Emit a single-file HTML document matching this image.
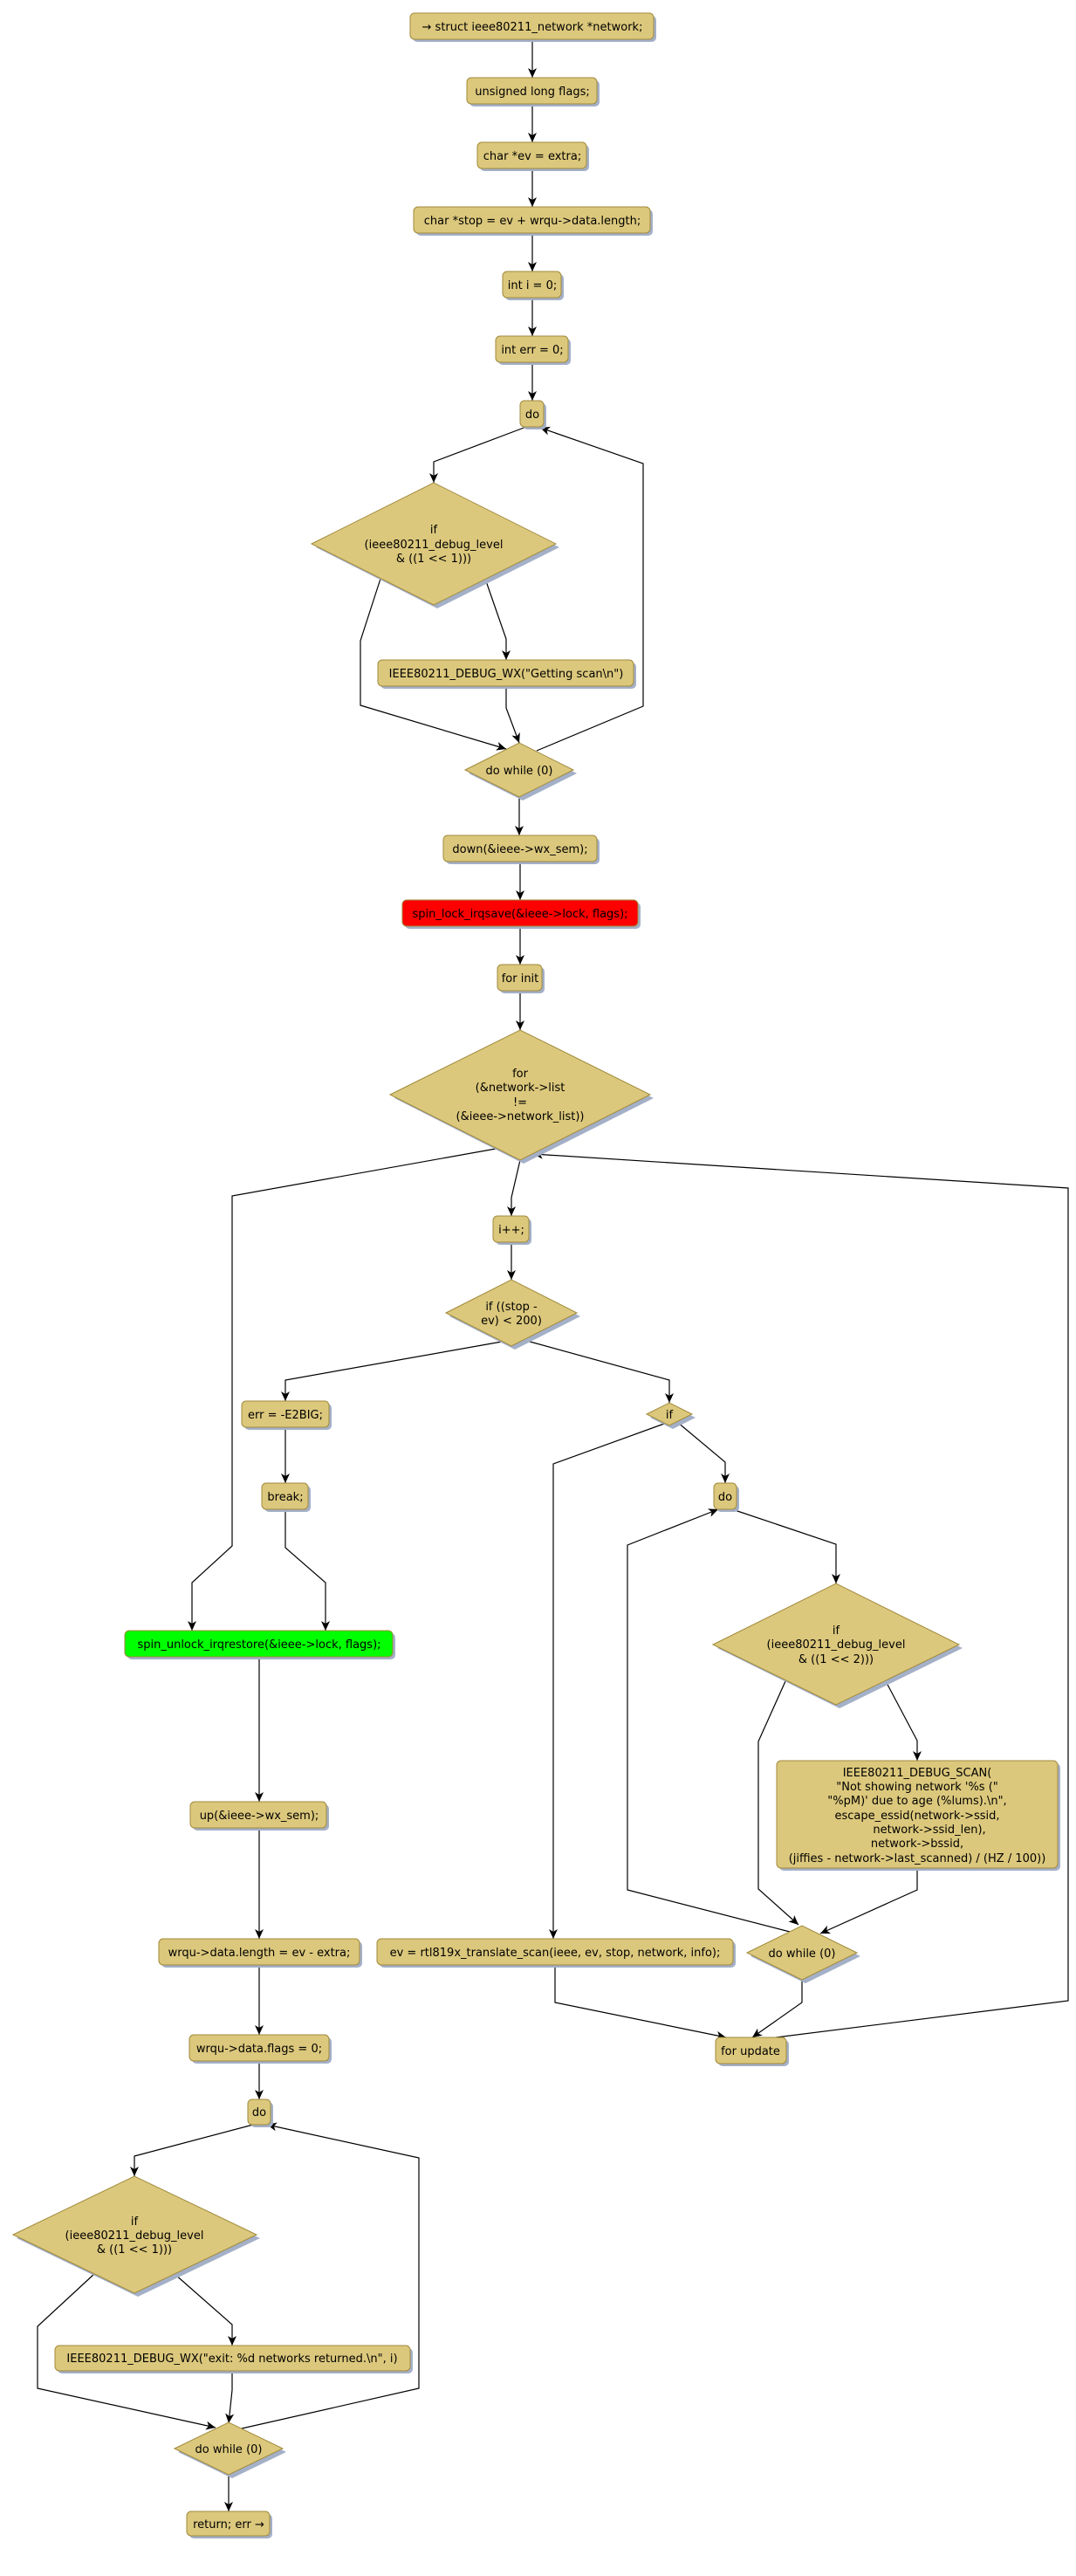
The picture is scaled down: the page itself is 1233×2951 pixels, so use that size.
<!DOCTYPE html>
<html><head><meta charset="utf-8"><style>
html,body{margin:0;padding:0;background:#fff;}
svg{display:block;}
text{font-family:"DejaVu Sans","Liberation Sans",sans-serif;font-size:13px;fill:#000;text-anchor:middle;}
.b{fill:#dcc87c;stroke:#a08a3c;stroke-width:1;}
.s{fill:#a4b0c8;}
.e{fill:none;stroke:#000;stroke-width:1.2;}
</style></head><body>
<svg width="1233" height="2951" viewBox="0 0 1233 2951" xmlns="http://www.w3.org/2000/svg">
<defs>
<marker id="a" viewBox="0 0 12 12" refX="11" refY="6" markerWidth="12" markerHeight="12" markerUnits="userSpaceOnUse" orient="auto">
<path d="M0,1 L11,6 L0,11 L3,6 Z" fill="#000"/>
</marker>
</defs>

<g class="e" marker-end="url(#a)">
<path class="e" d="M610,45 L610,89"/>
<path class="e" d="M610,119 L610,163"/>
<path class="e" d="M610,193 L610,237"/>
<path class="e" d="M610,267 L610,311"/>
<path class="e" d="M610,341 L610,385"/>
<path class="e" d="M610,415 L610,459"/>
<path class="e" d="M603,489 L497,529 L497,553"/>
<path class="e" d="M436,663 L413,734 L413,808 L580,858"/>
<path class="e" d="M556,663 L580,732 L580,756"/>
<path class="e" d="M580,786 L580,811 L595,851"/>
<path class="e" d="M615,860 L737,809 L737,531 L619,490"/>
<path class="e" d="M595,913 L595,957"/>
<path class="e" d="M596,987 L596,1031"/>
<path class="e" d="M596,1061 L596,1105"/>
<path class="e" d="M596,1135 L596,1180"/>
<path class="e" d="M568,1316 L266,1370 L266,1771 L220,1813 L220,1868"/>
<path class="e" d="M596,1329 L586,1372 L586,1393"/>
<path class="e" d="M586,1423 L586,1466"/>
<path class="e" d="M575,1537 L327,1581 L327,1605"/>
<path class="e" d="M600,1535 L767,1581 L767,1607"/>
<path class="e" d="M327,1635 L327,1699"/>
<path class="e" d="M327,1729 L327,1773 L373,1813 L373,1868"/>
<path class="e" d="M297,1898 L297,2064"/>
<path class="e" d="M297,2094 L297,2221"/>
<path class="e" d="M297,2251 L297,2331"/>
<path class="e" d="M297,2360 L297,2405"/>
<path class="e" d="M290,2434 L154,2470 L154,2493"/>
<path class="e" d="M108,2605 L43,2665 L43,2736 L247,2781"/>
<path class="e" d="M200,2605 L266,2663 L266,2687"/>
<path class="e" d="M266,2716 L266,2738 L262,2776"/>
<path class="e" d="M277,2782 L480,2736 L480,2472 L306,2434"/>
<path class="e" d="M262,2835 L262,2877"/>
<path class="e" d="M761,1631 L634,1677 L634,2221"/>
<path class="e" d="M776,1629 L831,1675 L831,1699"/>
<path class="e" d="M839,1729 L958,1769 L958,1814"/>
<path class="e" d="M900,1926 L869,1995 L869,2164 L915,2205"/>
<path class="e" d="M1015,1926 L1051,1994 L1051,2017"/>
<path class="e" d="M1051,2140 L1051,2165 L940,2215"/>
<path class="e" d="M905,2213 L719,2165 L719,1770 L823,1729"/>
<path class="e" d="M919,2269 L919,2294 L862,2334"/>
<path class="e" d="M636,2251 L636,2294 L832,2334"/>
<path class="e" d="M889,2334 L1224,2292 L1224,1361 L611,1322"/>
</g>

<g>
<rect class="s" x="473" y="18" width="279" height="30" rx="5"/><rect class="b" x="470" y="15" width="279" height="30" rx="5"/>
<text x="610" y="35">→ struct ieee80211_network *network;</text>
<rect class="s" x="538" y="92" width="149" height="30" rx="5"/><rect class="b" x="535" y="89" width="149" height="30" rx="5"/>
<text x="610" y="109">unsigned long flags;</text>
<rect class="s" x="550" y="166" width="125" height="30" rx="5"/><rect class="b" x="547" y="163" width="125" height="30" rx="5"/>
<text x="610" y="183">char *ev = extra;</text>
<rect class="s" x="477" y="240" width="271" height="30" rx="5"/><rect class="b" x="474" y="237" width="271" height="30" rx="5"/>
<text x="610" y="257">char *stop = ev + wrqu-&gt;data.length;</text>
<rect class="s" x="579" y="314" width="67" height="30" rx="5"/><rect class="b" x="576" y="311" width="67" height="30" rx="5"/>
<text x="610" y="331">int i = 0;</text>
<rect class="s" x="571" y="388" width="83" height="30" rx="5"/><rect class="b" x="568" y="385" width="83" height="30" rx="5"/>
<text x="610" y="405">int err = 0;</text>
<rect class="s" x="599" y="462" width="27" height="30" rx="5"/><rect class="b" x="596" y="459" width="27" height="30" rx="5"/>
<text x="610" y="479">do</text>

<polygon class="s" points="362,627 501,557 641,627 501,697"/><polygon class="b" points="357,623 497,553 637,623 497,693"/>
<text x="497" y="611">if</text><text x="497" y="628">(ieee80211_debug_level</text><text x="497" y="644">&amp; ((1 &lt;&lt; 1)))</text>

<rect class="s" x="436" y="759" width="293" height="30" rx="5"/><rect class="b" x="433" y="756" width="293" height="30" rx="5"/>
<text x="580" y="776">IEEE80211_DEBUG_WX("Getting scan\n")</text>

<polygon class="s" points="537,886 599,855 661,886 599,917"/><polygon class="b" points="533,882 595,851 657,882 595,913"/>
<text x="595" y="887">do while (0)</text>

<rect class="s" x="511" y="960" width="176" height="30" rx="5"/><rect class="b" x="508" y="957" width="176" height="30" rx="5"/>
<text x="596" y="977">down(&amp;ieee-&gt;wx_sem);</text>
<rect class="s" x="464" y="1034" width="270" height="30" rx="5"/><rect x="461" y="1031" width="270" height="30" rx="5" fill="#ff0000" stroke="#a08a3c"/>
<text x="596" y="1051">spin_lock_irqsave(&amp;ieee-&gt;lock, flags);</text>
<rect class="s" x="573" y="1108" width="51" height="30" rx="5"/><rect class="b" x="570" y="1105" width="51" height="30" rx="5"/>
<text x="596" y="1125">for init</text>

<polygon class="s" points="452,1258 600,1184 749,1258 600,1333"/><polygon class="b" points="447,1254 596,1180 745,1254 596,1329"/>
<text x="596" y="1234">for</text><text x="596" y="1250">(&amp;network-&gt;list</text><text x="596" y="1267">!=</text><text x="596" y="1283">(&amp;ieee-&gt;network_list))</text>

<rect class="s" x="568" y="1396" width="41" height="30" rx="5"/><rect class="b" x="565" y="1393" width="41" height="30" rx="5"/>
<text x="586" y="1413">i++;</text>

<polygon class="s" points="515,1508 590,1470 665,1508 590,1546"/><polygon class="b" points="511,1504 586,1466 661,1504 586,1542"/>
<text x="586" y="1501">if ((stop -</text><text x="586" y="1517">ev) &lt; 200)</text>

<rect class="s" x="280" y="1608" width="100" height="30" rx="5"/><rect class="b" x="277" y="1605" width="100" height="30" rx="5"/>
<text x="327" y="1625">err = -E2BIG;</text>
<rect class="s" x="303" y="1702" width="53" height="30" rx="5"/><rect class="b" x="300" y="1699" width="53" height="30" rx="5"/>
<text x="327" y="1719">break;</text>

<rect class="s" x="146" y="1871" width="307" height="30" rx="5"/><rect x="143" y="1868" width="307" height="30" rx="5" fill="#00ff00" stroke="#a08a3c"/>
<text x="297" y="1888">spin_unlock_irqrestore(&amp;ieee-&gt;lock, flags);</text>

<rect class="s" x="221" y="2067" width="156" height="30" rx="5"/><rect class="b" x="218" y="2064" width="156" height="30" rx="5"/>
<text x="297" y="2084">up(&amp;ieee-&gt;wx_sem);</text>
<rect class="s" x="185" y="2224" width="230" height="30" rx="5"/><rect class="b" x="182" y="2221" width="230" height="30" rx="5"/>
<text x="297" y="2241">wrqu-&gt;data.length = ev -  extra;</text>
<rect class="s" x="220" y="2334" width="160" height="30" rx="5"/><rect class="b" x="217" y="2331" width="160" height="30" rx="5"/>
<text x="297" y="2351">wrqu-&gt;data.flags = 0;</text>
<rect class="s" x="287" y="2408" width="26" height="29" rx="5"/><rect class="b" x="284" y="2405" width="26" height="29" rx="5"/>
<text x="297" y="2424">do</text>

<polygon class="s" points="19,2564 158,2497 298,2564 158,2631"/><polygon class="b" points="15,2560 154,2493 294,2560 154,2627"/>
<text x="154" y="2549">if</text><text x="154" y="2565">(ieee80211_debug_level</text><text x="154" y="2581">&amp; ((1 &lt;&lt; 1)))</text>

<rect class="s" x="66" y="2690" width="407" height="29" rx="5"/><rect class="b" x="63" y="2687" width="407" height="29" rx="5"/>
<text x="266" y="2706">IEEE80211_DEBUG_WX("exit: %d networks returned.\n", i)</text>

<polygon class="s" points="204,2809 266,2779 328,2809 266,2839"/><polygon class="b" points="200,2805 262,2775 324,2805 262,2835"/>
<text x="262" y="2810">do while (0)</text>

<rect class="s" x="217" y="2880" width="95" height="28" rx="5"/><rect class="b" x="214" y="2877" width="95" height="28" rx="5"/>
<text x="262" y="2896">return; err →</text>

<polygon class="s" points="745,1624 771,1611 797,1624 771,1637"/><polygon class="b" points="741,1620 767,1607 793,1620 767,1633"/>
<text x="767" y="1625">if</text>

<rect class="s" x="821" y="1702" width="26" height="30" rx="5"/><rect class="b" x="818" y="1699" width="26" height="30" rx="5"/>
<text x="831" y="1719">do</text>

<polygon class="s" points="822,1888 962,1818 1103,1888 962,1957"/><polygon class="b" points="817,1884 958,1814 1099,1884 958,1953"/>
<text x="958" y="1872">if</text><text x="958" y="1888">(ieee80211_debug_level</text><text x="958" y="1905">&amp; ((1 &lt;&lt; 2)))</text>

<rect class="s" x="893" y="2020" width="322" height="123" rx="5"/><rect class="b" x="890" y="2017" width="322" height="123" rx="5"/>
<text x="1051" y="2035">IEEE80211_DEBUG_SCAN(</text>
<text x="1051" y="2051">"Not showing network '%s ("</text>
<text x="1051" y="2067">"%pM)' due to age (%lums).\n",</text>
<text x="1051" y="2084">escape_essid(network-&gt;ssid,</text>
<text x="1065" y="2100">network-&gt;ssid_len),</text>
<text x="1051" y="2116">network-&gt;bssid,</text>
<text x="1051" y="2133">(jiffies - network-&gt;last_scanned) / (HZ / 100))</text>

<polygon class="s" points="860,2241 923,2210 986,2241 923,2272"/><polygon class="b" points="856,2237 919,2206 982,2237 919,2268"/>
<text x="919" y="2242">do while (0)</text>

<rect class="s" x="435" y="2224" width="408" height="30" rx="5"/><rect class="b" x="432" y="2221" width="408" height="30" rx="5"/>
<text x="636" y="2241">ev = rtl819x_translate_scan(ieee, ev, stop, network, info);</text>

<rect class="s" x="823" y="2337" width="81" height="30" rx="5"/><rect class="b" x="820" y="2334" width="81" height="30" rx="5"/>
<text x="860" y="2354">for update</text>
</g>
</svg>
</body></html>
